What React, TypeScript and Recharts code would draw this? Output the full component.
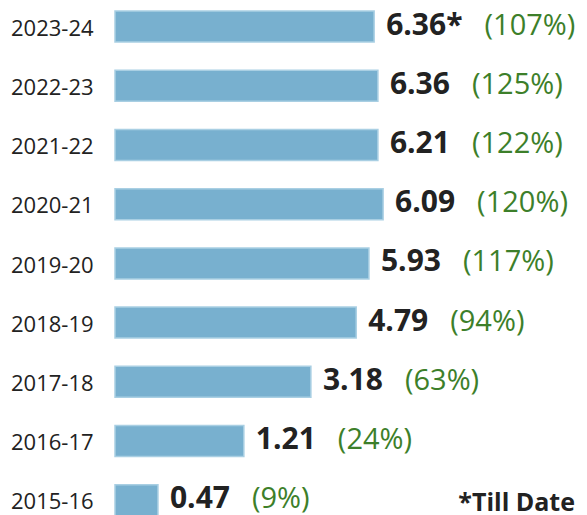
import { BarChart, Bar, XAxis, YAxis, LabelList } from "recharts";

// categories, top to bottom
const years = ["2023-24", "2022-23", "2021-22", "2020-21", "2019-20", "2018-19", "2017-18", "2016-17", "2015-16"];
// value shown next to each bar
const values = ["6.36*", "6.36", "6.21", "6.09", "5.93", "4.79", "3.18", "1.21", "0.47"];
// growth shown in brackets
const percents = [107, 125, 122, 120, 117, 94, 63, 24, 9];
// bar lengths as drawn in the picture (not to value scale), on a 0-10 axis
const barLengths = [5.49, 5.57, 5.57, 5.68, 5.38, 5.11, 4.15, 2.73, 0.91];

const data = years.map((year, i) => ({
  year,
  length: barLengths[i],
  value: values[i],
  pct: percents[i],
}));

const FONT = "'Open Sans', 'Noto Sans', sans-serif";

const YearTick = (props: any) => {
  const { y, payload } = props;
  return (
    <text x={11} y={y + 9} fontSize={22} fill="#222" fontFamily={FONT} textAnchor="start">
      {payload.value}
    </text>
  );
};

const ValueLabel = (props: any) => {
  const { x, y, width, height, index } = props;
  const d = data[index];
  return (
    <text x={x + width + 12} y={y + height / 2 + 8} fontFamily={FONT}>
      <tspan fontSize={30} fontWeight={700} fill="#222">
        {d.value}
      </tspan>
      <tspan dx={22} fontSize={29} fill="#3d7f2a">
        ({d.pct}%)
      </tspan>
    </text>
  );
};

export default function App() {
  return (
    <div style={{ position: "absolute", left: 0, top: 0, width: 587, height: 515, overflow: "hidden", background: "#fff" }}>
      <div style={{ position: "absolute", left: 0, top: -3 }}>
        <BarChart
          width={587}
          height={533}
          data={data}
          layout="vertical"
          margin={{ top: 0, right: 0, bottom: 0, left: 0 }}
        >
          <XAxis type="number" domain={[0, 10]} hide />
          <YAxis
            type="category"
            dataKey="year"
            width={115}
            axisLine={false}
            tickLine={false}
            tick={<YearTick />}
          />
          <Bar dataKey="length" barSize={31} fill="#78b0cf" stroke="#a9cfe3" strokeWidth={1.5} isAnimationActive={false}>
            <LabelList dataKey="value" content={<ValueLabel />} />
          </Bar>
        </BarChart>
      </div>
      <div
        style={{
          position: "absolute",
          right: 12,
          top: 484,
          fontFamily: FONT,
          fontWeight: 700,
          fontSize: 25,
          color: "#222",
          lineHeight: "34px",
        }}
      >
        *Till Date
      </div>
    </div>
  );
}
